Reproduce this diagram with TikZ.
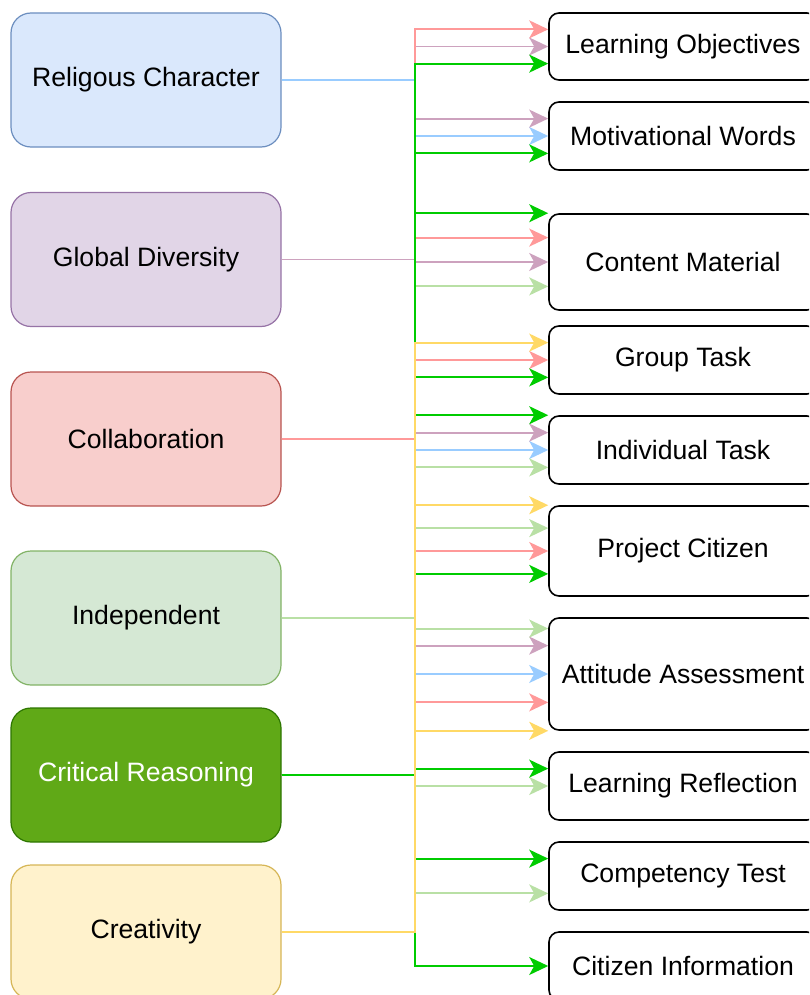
\documentclass[tikz,border=0pt]{standalone}
\usepackage{fontspec}
\setmainfont{Liberation Sans}
\usetikzlibrary{calc,arrows.meta}

\definecolor{relfill}{HTML}{DAE8FC}
\definecolor{relline}{HTML}{6C8EBF}
\definecolor{glofill}{HTML}{E1D5E7}
\definecolor{gloline}{HTML}{9673A6}
\definecolor{colfill}{HTML}{F8CECC}
\definecolor{colline}{HTML}{B85450}
\definecolor{indfill}{HTML}{D5E8D4}
\definecolor{indline}{HTML}{82B366}
\definecolor{crifill}{HTML}{60A917}
\definecolor{criline}{HTML}{2D7600}
\definecolor{crefill}{HTML}{FFF2CC}
\definecolor{creline}{HTML}{D6B656}
\definecolor{bluelink}{HTML}{99CCFF}
\definecolor{purplelink}{HTML}{CDA2BE}
\definecolor{redlink}{HTML}{FF9999}
\definecolor{lgreenlink}{HTML}{B9E0A5}
\definecolor{greenlink}{HTML}{00CC00}
\definecolor{yellowlink}{HTML}{FFD966}

\tikzset{
  lbox/.style = {draw, rounded corners=10pt, minimum width=135pt, minimum height=67pt,
    inner sep=0pt, line width=0.6pt, font=\fontsize{13.3}{16}\selectfont},
  rbox/.style = {draw=black, rounded corners=5pt, minimum width=134pt,
    inner sep=0pt, line width=0.8pt, font=\fontsize{13.3}{16}\selectfont},
  link/.style = {line width=0.95pt, -{Stealth[length=9.5pt, width=9pt, inset=2.5pt]}}
}

% point on the left side of a target box, #2 = fraction from the top
\newcommand{\port}[2]{($(#1.north west)!#2!(#1.south west)$)}

\begin{document}
\begin{tikzpicture}[x=0.5pt, y=-0.5pt]
\useasboundingbox (0,0) rectangle (809,995);
\clip (0,0) rectangle (809,995);

% sources
\path (146,80)  node[lbox, fill=relfill, draw=relline] (rel)  {Religous Character};
\path (146,259.5) node[lbox, fill=glofill, draw=gloline] (glo) {Global Diversity};
\path (146,439) node[lbox, fill=colfill, draw=colline] (col)  {Collaboration};
\path (146,618) node[lbox, fill=indfill, draw=indline] (ind)  {Independent};
\path (146,775) node[lbox, fill=crifill, draw=criline, text=white] (cri) {Critical Reasoning};
\path (146,932) node[lbox, fill=crefill, draw=creline] (cre)  {Creativity};

% targets
\path (683,46.5) node[rbox, minimum height=33.5pt] (lo) {Learning Objectives};
\path (683,136)  node[rbox, minimum height=34pt] (mw) {Motivational Words};
\path (683,262)  node[rbox, minimum height=48pt] (cm) {Content Material};
\path (683,360)  node[rbox, minimum height=34pt] (gt) {Group Task};
\path (683,450)  node[rbox, minimum height=34pt] (it) {Individual Task};
\path (683,551)  node[rbox, minimum height=45pt] (pc) {Project Citizen};
\path (683,674)  node[rbox, minimum height=56pt] (aa) {Attitude Assessment};
\path (683,786)  node[rbox, minimum height=34pt] (lr) {Learning Reflection};
\path (683,876)  node[rbox, minimum height=34pt] (ct) {Competency Test};
\path (683,966)  node[rbox, minimum height=34pt] (ci) {Citizen Information};

\coordinate (trunk) at (415,0);

% links, one colour per source
\foreach \t/\f in {mw/0.5, it/0.5, aa/0.5}
  \draw[link, bluelink] (rel.east) -- (rel.east -| trunk) |- \port{\t}{\f};
\foreach \t/\f in {lo/0.5, mw/0.25, cm/0.5, it/0.25, aa/0.25}
  \draw[link, purplelink] (glo.east) -- (glo.east -| trunk) |- \port{\t}{\f};
\foreach \t/\f in {cm/0.75, it/0.75, pc/0.25, aa/0.1, lr/0.5, ct/0.75}
  \draw[link, lgreenlink] (ind.east) -- (ind.east -| trunk) |- \port{\t}{\f};
\foreach \t/\f in {lo/0.25, cm/0.25, gt/0.5, pc/0.5, aa/0.75}
  \draw[link, redlink] (col.east) -- (col.east -| trunk) |- \port{\t}{\f};
\foreach \t/\f in {lo/0.75, mw/0.75, cm/0, gt/0.75, it/0, pc/0.75, lr/0.25, ct/0.25, ci/0.5}
  \draw[link, greenlink] (cri.east) -- (cri.east -| trunk) |- \port{\t}{\f};
\foreach \t/\f in {gt/0.25, pc/0, aa/1}
  \draw[link, yellowlink] (cre.east) -- (cre.east -| trunk) |- \port{\t}{\f};
\end{tikzpicture}
\end{document}
